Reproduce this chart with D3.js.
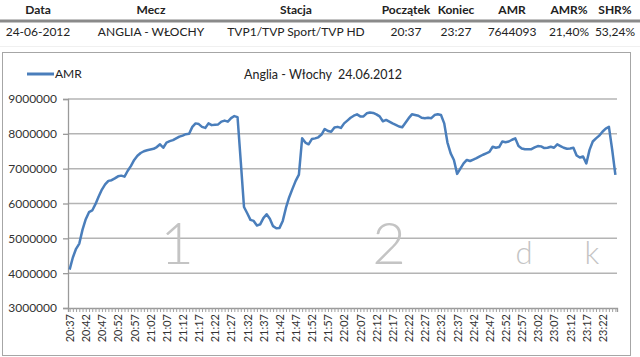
<!DOCTYPE html>
<html>
<head>
<meta charset="utf-8">
<script src="https://cdn.jsdelivr.net/npm/d3@7"></script>
<style>
  body { margin: 0; background: #fff; }
  svg { display: block; font-family: Lato, "Open Sans", sans-serif; }
</style>
</head>
<body>
<svg id="chart" width="640" height="357"></svg>
<script>
// header table
var headCols = ["Data", "Mecz", "Stacja", "Początek", "Koniec", "AMR", "AMR%", "SHR%"];
var rowCells = ["24-06-2012", "ANGLIA - WŁOCHY", "TVP1/TVP Sport/TVP HD", "20:37", "23:27", "7644093", "21,40%", "53,24%"];
var colX = [38, 151, 296, 406, 456, 512, 569, 615];

// minutes 20:37 .. 23:26, AMR viewers (thousands)
var amrK = [
  4100, 4450, 4700, 4850, 5250, 5550, 5750, 5800, 5980, 6200,
  6400, 6550, 6650, 6670, 6720, 6780, 6800, 6770, 6940, 7080,
  7250, 7370, 7450, 7500, 7530, 7550, 7570, 7620, 7700, 7600,
  7750, 7790, 7820, 7870, 7920, 7950, 7990, 8000, 8200, 8300,
  8280, 8200, 8170, 8300, 8250, 8260, 8270, 8350, 8380, 8350,
  8450, 8510, 8480, 7200, 5900, 5720, 5530, 5500, 5370, 5400,
  5580, 5690, 5560, 5350, 5290, 5300, 5500, 5880, 6180, 6420,
  6650, 6830, 7870, 7750, 7700, 7850, 7870, 7900, 7980, 8140,
  8080, 8060, 8180, 8200, 8170, 8300, 8380, 8460, 8520, 8560,
  8500, 8500, 8590, 8610, 8600, 8560, 8500, 8360, 8400, 8350,
  8300, 8260, 8210, 8190, 8320, 8450, 8560, 8540, 8520, 8460,
  8450, 8460, 8450, 8540, 8560, 8540, 8300, 7750, 7440, 7250,
  6850, 7000, 7150, 7250, 7220, 7260, 7300, 7350, 7400, 7440,
  7480, 7630, 7600, 7620, 7780, 7760, 7780, 7830, 7870, 7650,
  7580, 7560, 7560, 7560, 7610, 7650, 7640, 7590, 7600, 7630,
  7600, 7700, 7650, 7600, 7570, 7580, 7600, 7380, 7320, 7350,
  7150, 7540, 7780, 7870, 7950, 8060, 8150, 8200, 7550, 6820
];
var yTicks = [3000000, 4000000, 5000000, 6000000, 7000000, 8000000, 9000000];
var marks = [
  {t: "1", x: 177, size: 58},
  {t: "2", x: 389, size: 58},
  {t: "d", x: 524, size: 31},
  {t: "k", x: 592, size: 31}
];

var minutes = amrK.map(function(v, i) {
  var m = 20 * 60 + 37 + i;
  return Math.floor(m / 60) + ":" + d3.format("02")(m % 60);
});
var data = amrK.map(function(v, i) { return {t: minutes[i], v: v * 1000}; });

var svg = d3.select("#chart");

// table
svg.selectAll("text.head").data(headCols).enter().append("text")
  .attr("class", "head")
  .attr("x", function(d, i) { return colX[i]; })
  .attr("y", 14)
  .attr("text-anchor", "middle")
  .attr("font-size", 12).attr("font-weight", "bold").attr("fill", "#222")
  .text(function(d) { return d; });
svg.append("line").attr("x1", 0).attr("x2", 640).attr("y1", 21).attr("y2", 21)
  .attr("stroke", "#8a8a8a").attr("stroke-width", 3);
svg.selectAll("text.cell").data(rowCells).enter().append("text")
  .attr("class", "cell")
  .attr("x", function(d, i) { return colX[i]; })
  .attr("y", 36)
  .attr("text-anchor", "middle")
  .attr("font-size", 12).attr("fill", "#222")
  .text(function(d) { return d; });
svg.append("line").attr("x1", 0).attr("x2", 640).attr("y1", 46.5).attr("y2", 46.5)
  .attr("stroke", "#f0f0f0");

// chart frame
svg.append("rect").attr("x", 2.5).attr("y", 52.5).attr("width", 628).attr("height", 303)
  .attr("fill", "#fff").attr("stroke", "#a6a6a6");

var plotL = 68, plotR = 617, plotT = 99, plotB = 308;

var x = d3.scalePoint().domain(minutes).range([plotL, plotR]).padding(0.5);
var y = d3.scaleLinear().domain([3000000, 9000000]).range([plotB, plotT]);

// grid + y axis
svg.append("g").selectAll("line").data(yTicks.slice(1)).enter().append("line")
  .attr("x1", plotL).attr("x2", plotR)
  .attr("y1", function(d) { return y(d); }).attr("y2", function(d) { return y(d); })
  .attr("stroke", "#b4b4b4").attr("stroke-width", 1.5);

var gy = svg.append("g").attr("transform", "translate(" + plotL + ",0)")
  .call(d3.axisLeft(y).tickValues(yTicks).tickFormat(d3.format("d")).tickSize(5).tickPadding(6));
gy.select(".domain").attr("stroke", "#9a9a9a").attr("stroke-width", 1.3);
gy.selectAll(".tick line").attr("stroke", "#9a9a9a").attr("stroke-width", 1.3);
gy.selectAll(".tick text").attr("font-size", 12).attr("fill", "#333")
  .attr("font-family", "Lato, sans-serif");

// watermarks
svg.selectAll("text.mark").data(marks).enter().append("text")
  .attr("class", "mark")
  .attr("x", function(d) { return d.x; })
  .attr("y", 264)
  .attr("text-anchor", "middle")
  .attr("font-size", function(d) { return d.size; })
  .attr("font-weight", 300)
  .attr("fill", "#c4c4c4")
  .text(function(d) { return d.t; });

// x axis: ticks for each minute, labels every 5
var gx = svg.append("g").attr("transform", "translate(0," + plotB + ")")
  .call(d3.axisBottom(x).tickSize(4).tickFormat(""));
gx.select(".domain").attr("stroke", "#9a9a9a").attr("stroke-width", 1.3);
gx.selectAll(".tick line").attr("stroke", "#a0a0a0");

var gl = svg.append("g").attr("transform", "translate(0," + plotB + ")")
  .call(d3.axisBottom(x).tickValues(minutes.filter(function(d, i) { return i % 5 === 0; })).tickSize(0));
gl.select(".domain").remove();
gl.selectAll(".tick text")
  .attr("transform", "rotate(-90)")
  .attr("x", -6).attr("y", 0).attr("dy", "0.35em")
  .attr("text-anchor", "end")
  .attr("font-size", 11).attr("fill", "#333")
  .attr("font-family", "Lato, sans-serif");

// line
var line = d3.line().x(function(d) { return x(d.t); }).y(function(d) { return y(d.v); });
svg.append("path").datum(data)
  .attr("d", line)
  .attr("fill", "none")
  .attr("stroke", "#4a7ebb")
  .attr("stroke-width", 2.5)
  .attr("stroke-linejoin", "round");

// legend + title
svg.append("line").attr("x1", 27).attr("x2", 54).attr("y1", 74).attr("y2", 74)
  .attr("stroke", "#4a7ebb").attr("stroke-width", 3);
svg.append("text").attr("x", 55).attr("y", 78).attr("font-size", 12).attr("fill", "#222").text("AMR");
svg.append("text").attr("x", 323).attr("y", 79).attr("text-anchor", "middle")
  .attr("font-size", 12.5).attr("fill", "#222").attr("xml:space", "preserve")
  .text("Anglia - Włochy  24.06.2012");
</script>
</body>
</html>
